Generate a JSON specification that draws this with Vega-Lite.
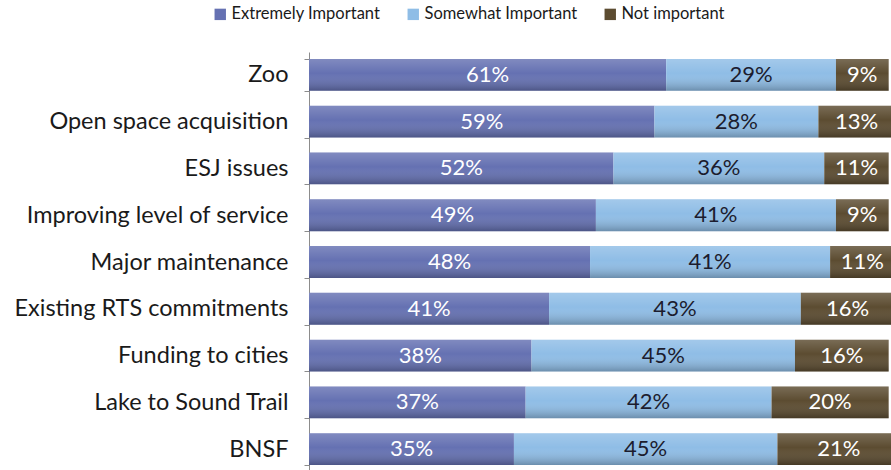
{
  "$schema": "https://vega.github.io/schema/vega-lite/v6.json",
  "width": 582,
  "height": 420,
  "autosize": {"type": "none"},
  "padding": {"left": 309, "top": 52, "right": 0, "bottom": 0},
  "background": "white",
  "config": {"view": {"stroke": null}, "font": "Lato"},
  "data": {
    "values": [
      {"category": "Zoo", "type": "Extremely Important", "value": 61, "order": 1},
      {"category": "Zoo", "type": "Somewhat Important", "value": 29, "order": 2},
      {"category": "Zoo", "type": "Not important", "value": 9, "order": 3},
      {"category": "Open space acquisition", "type": "Extremely Important", "value": 59, "order": 1},
      {"category": "Open space acquisition", "type": "Somewhat Important", "value": 28, "order": 2},
      {"category": "Open space acquisition", "type": "Not important", "value": 13, "order": 3},
      {"category": "ESJ issues", "type": "Extremely Important", "value": 52, "order": 1},
      {"category": "ESJ issues", "type": "Somewhat Important", "value": 36, "order": 2},
      {"category": "ESJ issues", "type": "Not important", "value": 11, "order": 3},
      {"category": "Improving level of service", "type": "Extremely Important", "value": 49, "order": 1},
      {"category": "Improving level of service", "type": "Somewhat Important", "value": 41, "order": 2},
      {"category": "Improving level of service", "type": "Not important", "value": 9, "order": 3},
      {"category": "Major maintenance", "type": "Extremely Important", "value": 48, "order": 1},
      {"category": "Major maintenance", "type": "Somewhat Important", "value": 41, "order": 2},
      {"category": "Major maintenance", "type": "Not important", "value": 11, "order": 3},
      {"category": "Existing RTS commitments", "type": "Extremely Important", "value": 41, "order": 1},
      {"category": "Existing RTS commitments", "type": "Somewhat Important", "value": 43, "order": 2},
      {"category": "Existing RTS commitments", "type": "Not important", "value": 16, "order": 3},
      {"category": "Funding to cities", "type": "Extremely Important", "value": 38, "order": 1},
      {"category": "Funding to cities", "type": "Somewhat Important", "value": 45, "order": 2},
      {"category": "Funding to cities", "type": "Not important", "value": 16, "order": 3},
      {"category": "Lake to Sound Trail", "type": "Extremely Important", "value": 37, "order": 1},
      {"category": "Lake to Sound Trail", "type": "Somewhat Important", "value": 42, "order": 2},
      {"category": "Lake to Sound Trail", "type": "Not important", "value": 20, "order": 3},
      {"category": "BNSF", "type": "Extremely Important", "value": 35, "order": 1},
      {"category": "BNSF", "type": "Somewhat Important", "value": 45, "order": 2},
      {"category": "BNSF", "type": "Not important", "value": 21, "order": 3}
    ]
  },
  "transform": [
    {"stack": "value", "groupby": ["category"], "sort": [{"field": "order"}], "as": ["x0", "x1"]},
    {"calculate": "(datum.x0 + datum.x1) / 2", "as": "mid"}
  ],
  "encoding": {
    "y": {
      "field": "category",
      "type": "nominal",
      "sort": ["Zoo", "Open space acquisition", "ESJ issues", "Improving level of service", "Major maintenance", "Existing RTS commitments", "Funding to cities", "Lake to Sound Trail", "BNSF"],
      "scale": {"paddingInner": 0.32, "paddingOuter": 0.15},
      "axis": {
        "title": null,
        "ticks": true,
        "tickBand": "extent",
        "tickSize": 5,
        "tickColor": "#8c8c8c",
        "domain": true,
        "domainColor": "#8c8c8c",
        "labelFont": "Lato",
        "labelFontSize": 23.5,
        "labelColor": "#1a1a1a",
        "labelPadding": 16,
        "labelLimit": 400
      }
    }
  },
  "layer": [
    {
      "mark": {"type": "bar", "clip": true},
      "encoding": {
        "x": {"field": "x0", "type": "quantitative", "scale": {"domain": [0, 99.4], "nice": false, "zero": true}, "axis": null},
        "x2": {"field": "x1"},
        "color": {
          "field": "type",
          "type": "nominal",
          "sort": ["Extremely Important", "Somewhat Important", "Not important"],
          "scale": {"domain": ["Extremely Important", "Somewhat Important", "Not important"], "range": ["#6571b2", "#8fbde6", "#5c4c31"]},
          "legend": {
            "title": null,
            "orient": "none",
            "direction": "horizontal",
            "legendX": -97,
            "legendY": -46,
            "symbolType": "square",
            "symbolSize": 130,
            "symbolStrokeWidth": 0,
            "labelFont": "Lato",
            "labelFontSize": 16.5,
            "labelColor": "#1a1a1a",
            "labelOffset": 3,
            "labelLimit": 300,
            "columnPadding": 24
          }
        }
      }
    },
    {
      "mark": {
        "type": "bar",
        "clip": true,
        "fill": {
          "gradient": "linear",
          "x1": 0, "y1": 0, "x2": 0, "y2": 1,
          "stops": [
            {"offset": 0, "color": "rgba(255,255,255,0.18)"},
            {"offset": 0.45, "color": "rgba(255,255,255,0)"},
            {"offset": 1, "color": "rgba(0,0,0,0.25)"}
          ]
        }
      },
      "encoding": {
        "x": {"field": "x0", "type": "quantitative"},
        "x2": {"field": "x1"}
      }
    },
    {
      "mark": {"type": "text", "font": "Lato", "fontSize": 22, "baseline": "middle", "align": "center", "text": {"expr": "datum.value + '%'"}},
      "encoding": {
        "x": {"field": "mid", "type": "quantitative"},
        "color": {
          "condition": {"test": "datum.type === 'Somewhat Important'", "value": "#1c1c2e"},
          "value": "#ffffff"
        }
      }
    }
  ]
}
